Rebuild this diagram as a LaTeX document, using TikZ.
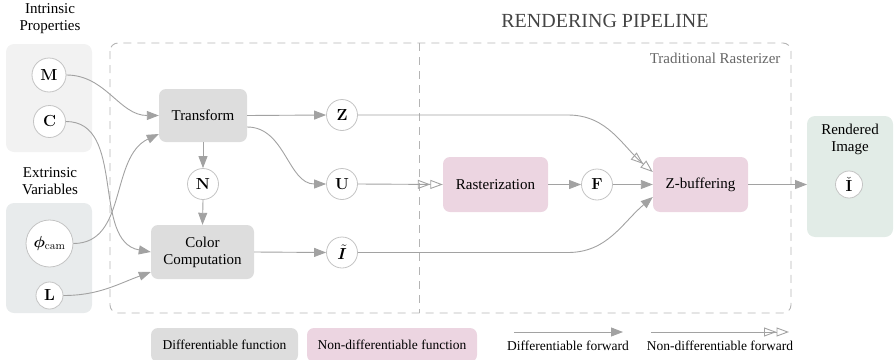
\RequirePackage{fix-cm}
\documentclass[tikz,border=0pt]{standalone}
\usepackage{amsmath}
\usepackage{bm}
\usepackage[no-math]{fontspec}
\setmainfont{Liberation Serif}
\usetikzlibrary{arrows.meta}
\definecolor{difffill}{HTML}{DDDDDD}
\definecolor{ndfill}{HTML}{ECD5E1}
\definecolor{intrfill}{HTML}{F2F2F2}
\definecolor{extrfill}{HTML}{E8EBEC}
\definecolor{rendfill}{HTML}{E2ECE7}
\definecolor{arrgray}{HTML}{A2A2A2}
\definecolor{circgray}{HTML}{C4C4C4}
\definecolor{dashgray}{HTML}{B4B4B4}
\definecolor{titlegray}{HTML}{444444}
\definecolor{subgray}{HTML}{666666}
\tikzset{
  mainfont/.style={font=\fontsize{15}{17}\selectfont},
  legfont/.style={font=\fontsize{13.5}{15}\selectfont},
  funbox/.style={rounded corners=7pt, align=center, inner sep=0pt, mainfont},
  dfun/.style={funbox, fill=difffill},
  nfun/.style={funbox, fill=ndfill},
  var/.style={circle, draw=circgray, line width=0.8pt, fill=white, inner sep=0pt, minimum size=31pt, font=\fontsize{16}{18}\selectfont},
  darr/.style={draw=arrgray, line width=0.9pt, -{Triangle[length=12pt,width=9pt]}},
  ndarr/.style={draw=arrgray, line width=0.9pt, -{Triangle[open,length=12.5pt,width=9pt]Triangle[open,length=12.5pt,width=9pt]}},
  groupbox/.style={rounded corners=8pt},
  dashline/.style={draw=dashgray, line width=0.9pt, dash pattern=on 8pt off 6pt}
}
\begin{document}
\begin{tikzpicture}[x=1pt,y=-1pt]
\useasboundingbox (0,0) rectangle (894,359);
% group backgrounds
\fill[intrfill, groupbox] (6,44) rectangle (92,152);
\fill[extrfill, groupbox] (6,203) rectangle (92,313);
\fill[rendfill, groupbox] (807,116) rectangle (893,237);
\node[mainfont, align=center] (intr) at (50,19) {Intrinsic\\Properties};
\node[mainfont, align=center] (extr) at (50,181) {Extrinsic\\Variables};
\node[mainfont, align=center] (rend) at (850,139) {Rendered\\Image};
% pipeline frame
\draw[dashline, rounded corners=8pt] (110,43) rectangle (791,313);
\draw[dashline] (419,43) -- (419,313);
\node[font=\fontsize{20}{22}\selectfont, text=titlegray] (title) at (605,21) {RENDERING PIPELINE};
\node[mainfont, text=subgray, anchor=east] (trad) at (784,58) {Traditional Rasterizer};
% inputs
\node[var, minimum size=34pt] (M) at (49,75) {$\mathbf{M}$};
\node[var, minimum size=32pt] (C) at (49.5,121.5) {$\mathbf{C}$};
\node[var, minimum size=47pt] (phi) at (49.5,243.5) {$\bm{\phi}_{\mathrm{cam}}$};
\node[var, minimum size=27pt] (L) at (49.5,295.5) {$\mathbf{L}$};
% functions
\node[dfun, minimum width=88pt, minimum height=53pt] (tr) at (203,115.5) {Transform};
\node[dfun, minimum width=103pt, minimum height=54pt] (cc) at (202.5,252) {Color\\Computation};
\node[nfun, minimum width=105pt, minimum height=55pt] (ra) at (495.5,184.5) {Rasterization};
\node[nfun, minimum width=95pt, minimum height=55pt] (zb) at (700.5,184.5) {Z-buffering};
% intermediate variables
\node[var] (N) at (203,184) {$\mathbf{N}$};
\node[var] (Z) at (342,115) {$\mathbf{Z}$};
\node[var] (U) at (342,184) {$\mathbf{U}$};
\node[var] (It) at (342,252.5) {$\tilde{\bm{I}}$};
\node[var] (F) at (597,184.5) {$\mathbf{F}$};
\node[var, minimum size=27pt] (Ic) at (849,184.5) {$\check{\mathbf{I}}$};
% connectors
\draw[darr] (M.east) to[out=0,in=180] (tr.west);
\draw[darr] (phi.east) to[out=0,in=205] ([yshift=-18.5pt]tr.west);
\draw[darr] (C.east) to[out=0,in=170] (cc.west);
\draw[darr] (L.east) to[out=0,in=200] ([yshift=-20pt]cc.west);
\draw[darr] (tr.east) -- (Z.west);
\draw[darr] ([yshift=-11.5pt]tr.east) to[out=0,in=180] (U.west);
\draw[darr] (tr.south) -- (N.north);
\draw[darr] (N.south) -- (cc.north);
\draw[darr] (cc.east) -- (It.west);
\draw[ndarr] (U.east) -- (ra.west);
\draw[darr] (ra.east) -- (F.west);
\draw[darr] (F.east) -- (zb.west);
\coordinate (zbend) at (568,115);
\coordinate (ibend) at (568,252.5);
\draw[ndarr] (Z.east) -- (zbend) to[out=0,in=140] ([yshift=12.5pt]zb.west);
\draw[darr] (It.east) -- (ibend) to[out=0,in=220] ([yshift=-12.5pt]zb.west);
\draw[darr] (zb.east) -- (807,184.5);
% legend
\node[dfun, legfont, minimum width=147pt, minimum height=34pt] (lg1) at (224.5,345) {Differentiable function};
\node[nfun, legfont, minimum width=170pt, minimum height=34pt] (lg2) at (392,345) {Non-differentiable function};
\coordinate (la1) at (514,332);
\coordinate (lb1) at (623,332);
\coordinate (la2) at (651,332);
\coordinate (lb2) at (789,332);
\draw[darr] (la1) -- (lb1);
\draw[ndarr] (la2) -- (lb2);
\node[legfont] (lt1) at (568,346) {Differentiable forward};
\node[legfont] (lt2) at (720,346) {Non-differentiable forward};
\end{tikzpicture}
\end{document}
